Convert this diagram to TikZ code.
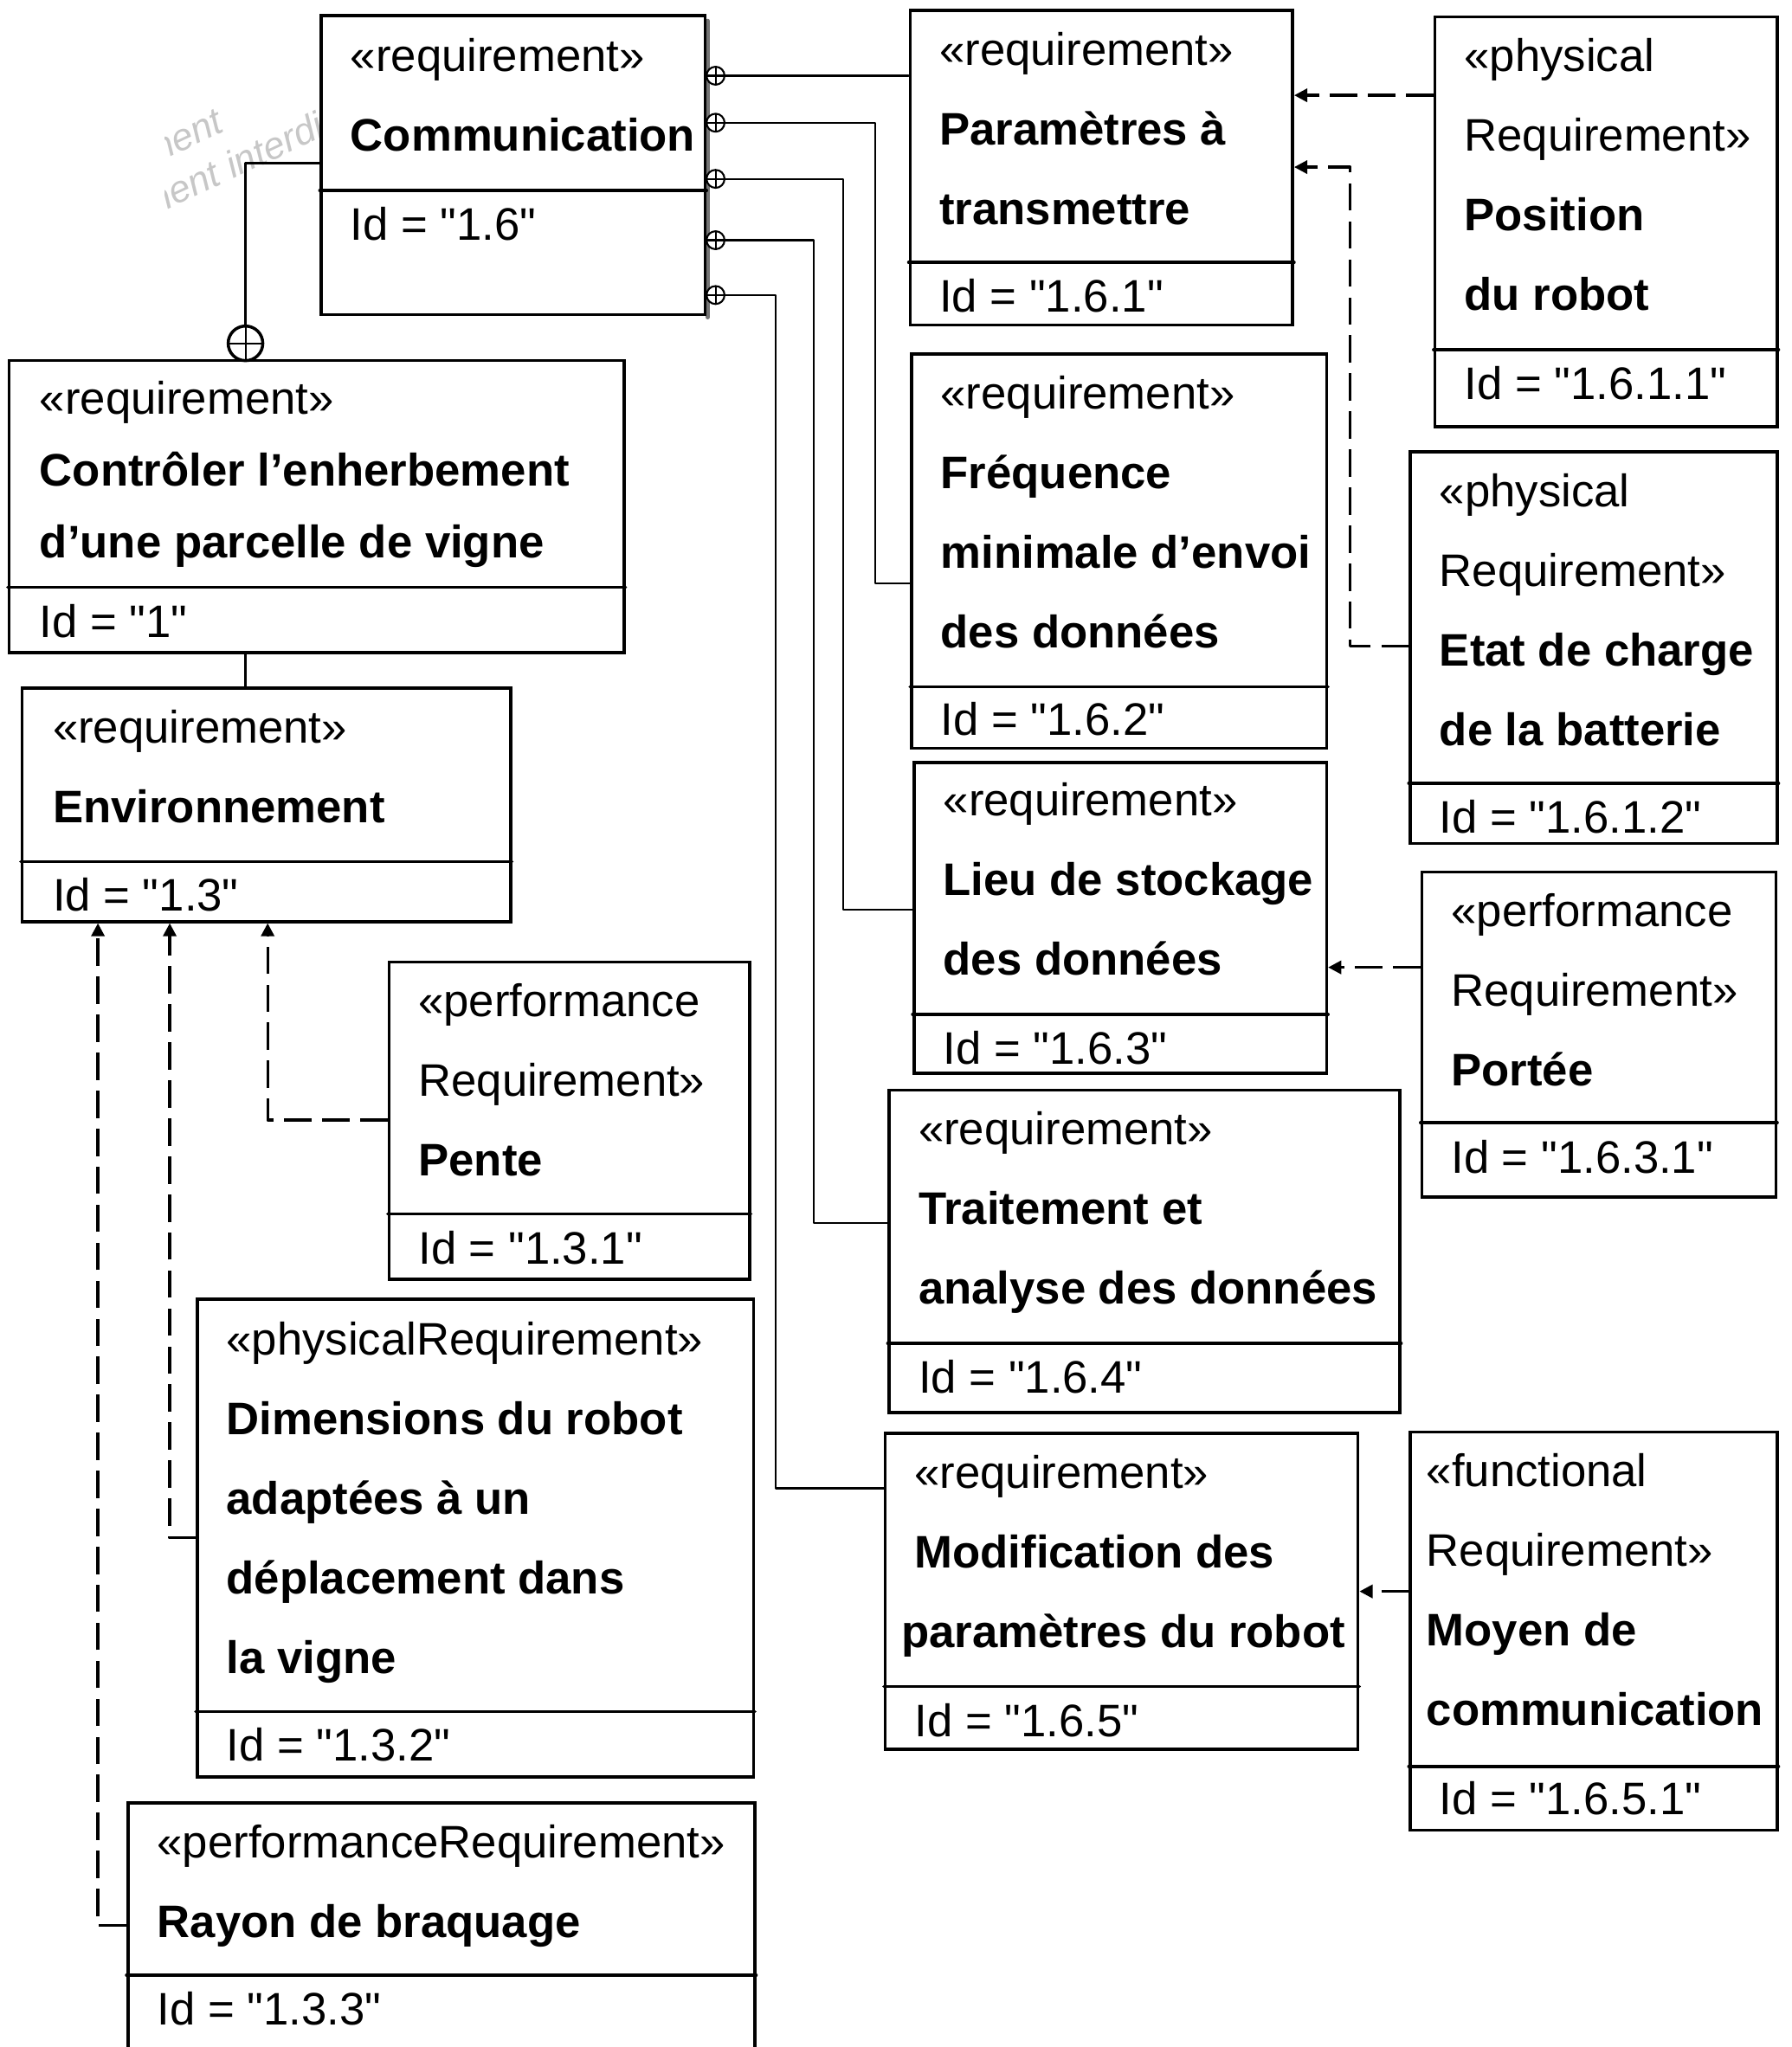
\documentclass[tikz,border=0pt]{standalone}
\usepackage{fontspec}
\setmainfont{Liberation Sans}[Ligatures=TeXOff]
\usetikzlibrary{arrows.meta,fit}

\begin{document}
\begin{tikzpicture}[line cap=round,line join=round,x=0.015087cm,y=-0.015087cm,
	reqbox/.style={draw,fill=white,line width=1pt,line join=miter,inner sep=0pt},
	divline/.style={line width=1pt},
	stereo/.style={anchor=base west,inner sep=0pt,yshift=-0.045cm,font=\fontsize{15pt}{18pt}\selectfont},
	reqname/.style={stereo,font=\fontsize{15pt}{18pt}\selectfont\bfseries},
	wmark/.style={anchor=base west,inner sep=0pt,text=black!22,rotate=25,font=\fontsize{12.5pt}{14pt}\selectfont\itshape},
	link/.style={line width=0.6pt},
	thickline/.style={line width=1pt},
	realize/.style={line width=0.95pt,dash pattern=on 9pt off 3.5pt,line cap=butt,-{Triangle[length=4.3pt,width=4.3pt]}},
	own/.style={circle,draw,fill=white,inner sep=0pt,line width=0.6pt,minimum size=0.208cm,
		path picture={\draw[line width=0.6pt] (path picture bounding box.north) -- (path picture bounding box.south) (path picture bounding box.west) -- (path picture bounding box.east);}},
	bigown/.style={own,line width=1pt,minimum size=0.4cm}]
	\useasboundingbox (0,0) rectangle (1372,1568);
	% watermark, mostly hidden
	\begin{scope}
		\clip (126,60) rectangle (246,185);
		\node[wmark] (wm1) at (114,128) {ment};
		\node[wmark] (wm2) at (112,168) {ment interdit};
	\end{scope}
	% boxes
	\draw[black!55,line width=1.4pt] (542,16) -- (542,243);
	\node[reqbox,fit={(246,12) (540,241)}] (com) {};
	\draw[divline] (com.west |- 0,146) -- (com.east |- 0,146);
	\node[reqbox,fit={(7,276) (478,500)}] (ctrl) {};
	\draw[divline] (ctrl.west |- 0,450) -- (ctrl.east |- 0,450);
	\node[reqbox,fit={(17,527) (391,706)}] (env) {};
	\draw[divline] (env.west |- 0,660) -- (env.east |- 0,660);
	\node[reqbox,fit={(298,737) (574,980)}] (pente) {};
	\draw[divline] (pente.west |- 0,930) -- (pente.east |- 0,930);
	\node[reqbox,fit={(151,995) (577,1361)}] (dim) {};
	\draw[divline] (dim.west |- 0,1311) -- (dim.east |- 0,1311);
	\node[reqbox,fit={(98,1381) (578,1580)}] (rayon) {};
	\draw[divline] (rayon.west |- 0,1513) -- (rayon.east |- 0,1513);
	\node[reqbox,fit={(697,8) (990,249)}] (param) {};
	\draw[divline] (param.west |- 0,201) -- (param.east |- 0,201);
	\node[reqbox,fit={(698,271) (1016,573)}] (freq) {};
	\draw[divline] (freq.west |- 0,526) -- (freq.east |- 0,526);
	\node[reqbox,fit={(700,584) (1016,822)}] (lieu) {};
	\draw[divline] (lieu.west |- 0,777) -- (lieu.east |- 0,777);
	\node[reqbox,fit={(681,835) (1072,1082)}] (trait) {};
	\draw[divline] (trait.west |- 0,1029) -- (trait.east |- 0,1029);
	\node[reqbox,fit={(678,1098) (1040,1340)}] (modif) {};
	\draw[divline] (modif.west |- 0,1292) -- (modif.east |- 0,1292);
	\node[reqbox,fit={(1099,13) (1361,327)}] (pos) {};
	\draw[divline] (pos.west |- 0,268) -- (pos.east |- 0,268);
	\node[reqbox,fit={(1080,346) (1361,646)}] (etat) {};
	\draw[divline] (etat.west |- 0,600) -- (etat.east |- 0,600);
	\node[reqbox,fit={(1089,668) (1360,917)}] (portee) {};
	\draw[divline] (portee.west |- 0,860) -- (portee.east |- 0,860);
	\node[reqbox,fit={(1080,1097) (1361,1402)}] (moyen) {};
	\draw[divline] (moyen.west |- 0,1353) -- (moyen.east |- 0,1353);
	% texts
	\node[stereo] (com-s) at (268,52) {«requirement»};
	\node[reqname] (com-n) at (268,113) {Communication};
	\node[stereo] (com-i) at (268,181) {Id = "1.6"};
	\node[stereo] (ctrl-s) at (30,314) {«requirement»};
	\node[reqname] (ctrl-n1) at (30,369) {Contrôler l’enherbement};
	\node[reqname] (ctrl-n2) at (30,424) {d’une parcelle de vigne};
	\node[stereo] (ctrl-i) at (30,485) {Id = "1"};
	\node[stereo] (env-s) at (40,566) {«requirement»};
	\node[reqname] (env-n) at (40,627) {Environnement};
	\node[stereo] (env-i) at (40,695) {Id = "1.3"};
	\node[stereo] (pente-s1) at (320,776) {«performance};
	\node[stereo] (pente-s2) at (320,837) {Requirement»};
	\node[reqname] (pente-n) at (320,898) {Pente};
	\node[stereo] (pente-i) at (320,965) {Id = "1.3.1"};
	\node[stereo] (dim-s) at (173,1035) {«physicalRequirement»};
	\node[reqname] (dim-n1) at (173,1096) {Dimensions du robot};
	\node[reqname] (dim-n2) at (173,1157) {adaptées à un};
	\node[reqname] (dim-n3) at (173,1218) {déplacement dans};
	\node[reqname] (dim-n4) at (173,1279) {la vigne};
	\node[stereo] (dim-i) at (173,1346) {Id = "1.3.2"};
	\node[stereo] (rayon-s) at (120,1420) {«performanceRequirement»};
	\node[reqname] (rayon-n) at (120,1481) {Rayon de braquage};
	\node[stereo] (rayon-i) at (120,1548) {Id = "1.3.3"};
	\node[stereo] (param-s) at (719,47) {«requirement»};
	\node[reqname] (param-n1) at (719,108) {Paramètres à};
	\node[reqname] (param-n2) at (719,169) {transmettre};
	\node[stereo] (param-i) at (719,236) {Id = "1.6.1"};
	\node[stereo] (freq-s) at (720,310) {«requirement»};
	\node[reqname] (freq-n1) at (720,371) {Fréquence};
	\node[reqname] (freq-n2) at (720,432) {minimale d’envoi};
	\node[reqname] (freq-n3) at (720,493) {des données};
	\node[stereo] (freq-i) at (720,560) {Id = "1.6.2"};
	\node[stereo] (lieu-s) at (722,622) {«requirement»};
	\node[reqname] (lieu-n1) at (722,683) {Lieu de stockage};
	\node[reqname] (lieu-n2) at (722,744) {des données};
	\node[stereo] (lieu-i) at (722,812) {Id = "1.6.3"};
	\node[stereo] (trait-s) at (703,874) {«requirement»};
	\node[reqname] (trait-n1) at (703,935) {Traitement et};
	\node[reqname] (trait-n2) at (703,996) {analyse des données};
	\node[stereo] (trait-i) at (703,1064) {Id = "1.6.4"};
	\node[stereo] (modif-s) at (700,1137) {«requirement»};
	\node[reqname] (modif-n1) at (700,1198) {Modification des};
	\node[reqname] (modif-n2) at (690,1259) {paramètres du robot};
	\node[stereo] (modif-i) at (700,1327) {Id = "1.6.5"};
	\node[stereo] (pos-s1) at (1121,52) {«physical};
	\node[stereo] (pos-s2) at (1121,113) {Requirement»};
	\node[reqname] (pos-n1) at (1121,174) {Position};
	\node[reqname] (pos-n2) at (1121,235) {du robot};
	\node[stereo] (pos-i) at (1121,303) {Id = "1.6.1.1"};
	\node[stereo] (etat-s1) at (1102,385) {«physical};
	\node[stereo] (etat-s2) at (1102,446) {Requirement»};
	\node[reqname] (etat-n1) at (1102,507) {Etat de charge};
	\node[reqname] (etat-n2) at (1102,568) {de la batterie};
	\node[stereo] (etat-i) at (1102,635) {Id = "1.6.1.2"};
	\node[stereo] (portee-s1) at (1111,707) {«performance};
	\node[stereo] (portee-s2) at (1111,768) {Requirement»};
	\node[reqname] (portee-n) at (1111,829) {Portée};
	\node[stereo] (portee-i) at (1111,896) {Id = "1.6.3.1"};
	\node[stereo] (moyen-s1) at (1092,1136) {«functional};
	\node[stereo] (moyen-s2) at (1092,1197) {Requirement»};
	\node[reqname] (moyen-n1) at (1092,1258) {Moyen de};
	\node[reqname] (moyen-n2) at (1092,1319) {communication};
	\node[stereo] (moyen-i) at (1102,1387) {Id = "1.6.5.1"};
	% containment
	\node[own] (o1) at (548,58) {};
	\node[own] (o2) at (548,94) {};
	\node[own] (o3) at (548,137) {};
	\node[own] (o4) at (548,184) {};
	\node[own] (o5) at (548,226) {};
	\draw[link] (o1) -- (param.west |- o1);
	\draw[link] (o2) -- (670,94) -- (670,447) -- (freq.west |- 0,447);
	\draw[link] (o3) -- (646,137) -- (646,697) -- (lieu.west |- 0,697);
	\draw[link] (o4) -- (623,184) -- (623,937) -- (trait.west |- 0,937);
	\draw[link] (o5) -- (594,226) -- (594,1140) -- (modif.west |- 0,1140);
	\node[bigown] (big) at (188,263) {};
	\draw[thickline] (com.west |- 0,125) -| (big.north);
	\draw[thickline] (ctrl.south -| big) -- (env.north -| big);
	% derive / refine
	\draw[realize] (pente.west |- 0,858) -| (env.south -| 205,0);
	\draw[realize] (dim.west |- 0,1178) -| (env.south -| 130,0);
	\draw[realize] (rayon.west |- 0,1475) -| (env.south -| 75,0);
	\draw[realize] (pos.west |- 0,73) -- (param.east |- 0,73);
	\draw[realize] (etat.west |- 0,495) -| (1034,128) -- (param.east |- 0,128);
	\draw[realize] (portee.west |- 0,741) -- (lieu.east |- 0,741);
	\draw[realize] (moyen.west |- 0,1219) -- (modif.east |- 0,1219);
\end{tikzpicture}
\end{document}
